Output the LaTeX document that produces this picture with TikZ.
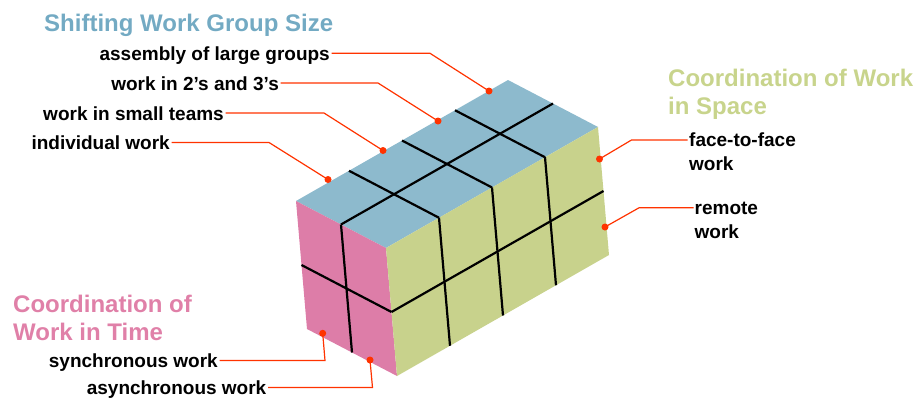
\documentclass[tikz,border=0pt]{standalone}
\usepackage{fontspec}
\setmainfont{Liberation Sans}
\usetikzlibrary{calc}
\definecolor{topblue}{RGB}{141,186,205}
\definecolor{sidepink}{RGB}{221,125,168}
\definecolor{sidegreen}{RGB}{200,210,140}
\definecolor{titleblue}{RGB}{115,170,195}
\definecolor{titlegreen}{RGB}{200,212,140}
\definecolor{titlepink}{RGB}{224,128,168}
\definecolor{leader}{RGB}{255,51,0}
\begin{document}
\begin{tikzpicture}[x=1pt,y=-1pt,
  lbl/.style={font=\fontsize{19}{23.3}\selectfont\bfseries, inner xsep=1.5pt, inner ysep=0pt, text height=14pt, text depth=0pt},
  lbltwo/.style={font=\fontsize{19}{23.3}\selectfont\bfseries, inner sep=0pt, align=left},
  ttl/.style={font=\fontsize{24}{28.5}\selectfont\bfseries, inner sep=0pt, align=left},
  gridline/.style={line width=2.2pt},
  leaderline/.style={draw=leader, line width=1.2pt},
  dot/.style={circle, fill=leader, inner sep=0pt, minimum size=7pt}
]
\useasboundingbox (0,0) rectangle (922,399);

% box geometry
\coordinate (A) at (296,201);
\coordinate (u) at (90,47);
\coordinate (v) at (212,-121);
\coordinate (w) at (11,128);
\coordinate (B) at ($(A)+(u)$);
\coordinate (C) at ($(A)+(u)+(v)$);
\coordinate (D) at ($(A)+(v)$);
\coordinate (Aw) at ($(A)+(w)$);
\coordinate (Bw) at ($(B)+(w)$);
\coordinate (Cw) at ($(C)+(w)$);

% faces
\fill[topblue] (A) -- (B) -- (C) -- (D) -- cycle;
\fill[sidepink] (A) -- (B) -- (Bw) -- (Aw) -- cycle;
\fill[sidegreen] (B) -- (C) -- (Cw) -- (Bw) -- cycle;

% grid on top face
\draw[gridline] ($(A)!0.5!(B)$) -- ($(D)!0.5!(C)$);
\foreach \k in {0.25,0.5,0.75}{
  \draw[gridline] ($(A)!\k!(D)$) -- ($(B)!\k!(C)$);
  \draw[gridline] ($(B)!\k!(C)$) -- ($(Bw)!\k!(Cw)$);
}
% pink face
\draw[gridline] ($(A)!0.5!(B)$) -- ($(Aw)!0.5!(Bw)$);
\draw[gridline] ($(A)!0.5!(Aw)$) -- ($(B)!0.5!(Bw)$);
% green face
\draw[gridline] ($(B)!0.5!(Bw)$) -- ($(C)!0.5!(Cw)$);

% titles
\node[ttl, text=titleblue, anchor=base west] (t1) at (44,31.7) {Shifting Work Group Size};
\node[ttl, text=titlegreen, anchor=north west] (t2) at (668,66) {\strut Coordination of Work\\in Space};
\node[ttl, text=titlepink, anchor=north west, font=\fontsize{24}{28}\selectfont\bfseries] (t3) at (13,292.7) {\strut Coordination of\\Work in Time};

% dots
\node[dot] (d1) at (489,91) {};
\node[dot] (d2) at (438,121) {};
\node[dot] (d3) at (383,150.5) {};
\node[dot] (d4) at (328,179.5) {};
\node[dot] (d5) at (599.5,159) {};
\node[dot] (d6) at (605,227) {};
\node[dot] (d7) at (322.7,333.3) {};
\node[dot] (d8) at (370,360) {};

% left labels
\node[lbl, anchor=east] (l1) at (331.5,53.3) {assembly of large groups};
\node[lbl, anchor=east] (l2) at (280.5,83) {work in 2’s and 3’s};
\node[lbl, anchor=east] (l3) at (225.5,113) {work in small teams};
\node[lbl, anchor=east] (l4) at (171.5,142.5) {individual work};
\draw[leaderline] (l1.east) -- ++(98.5,0) -- (d1.center);
\draw[leaderline] (l2.east) -- ++(97.5,0) -- (d2.center);
\draw[leaderline] (l3.east) -- ++(98.5,0) -- (d3.center);
\draw[leaderline] (l4.east) -- ++(97.5,0) -- (d4.center);

% right labels
\node[lbltwo, anchor=north west] (r1) at (689,130.4) {\strut face-to-face\\work};
\node[lbltwo, anchor=north west] (r2) at (694.5,198.2) {\strut remote\\work};
\draw[leaderline] ($(r1.north west)+(-1.5,9.6)$) -- ++(-56,0) -- (d5.center);
\draw[leaderline] ($(r2.north west)+(-1,9.6)$) -- ++(-54.5,0) -- (d6.center);

% bottom labels
\node[lbl, anchor=east] (b1) at (219.5,360.5) {synchronous work};
\node[lbl, anchor=east] (b2) at (268,387.5) {asynchronous work};
\draw[leaderline] (b1.east) -- ++(105.5,0) -- (d7.center);
\draw[leaderline] (b2.east) -- ++(104.5,0) -- (d8.center);
\end{tikzpicture}
\end{document}
